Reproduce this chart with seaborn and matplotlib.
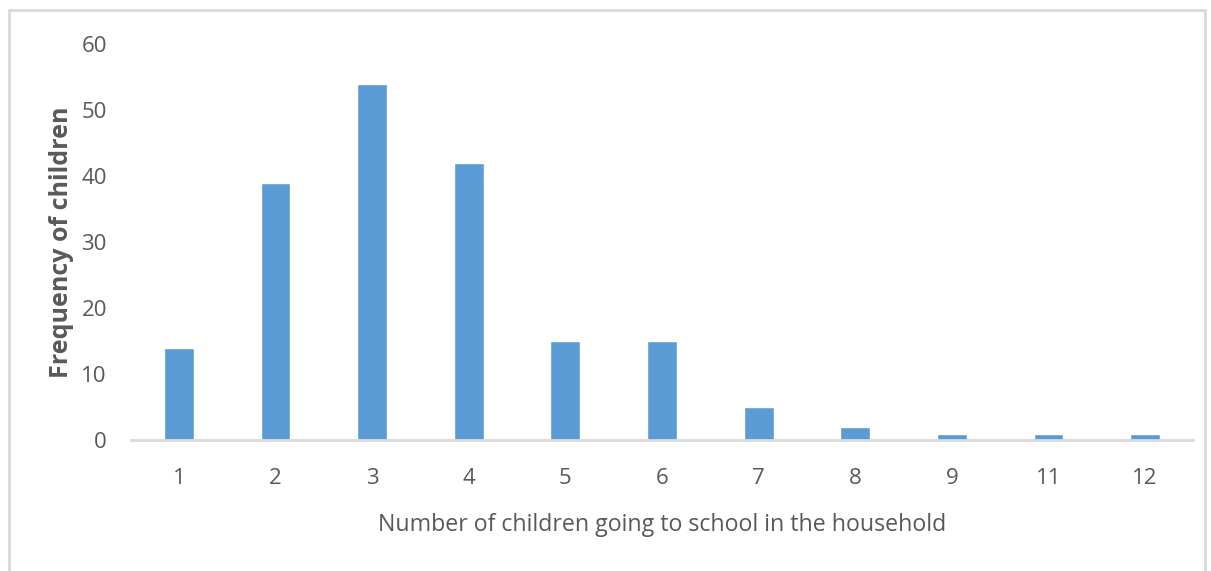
import matplotlib
matplotlib.use('Agg')
import matplotlib.pyplot as plt
import seaborn as sns
import pandas as pd
from matplotlib.patches import Rectangle

n_children = ['1', '2', '3', '4', '5', '6', '7', '8', '9', '11', '12']
frequency = [14, 39, 54, 42, 15, 15, 5, 2, 1, 1, 1]

df = pd.DataFrame({'n_children': n_children, 'frequency': frequency})

sns.set_style('white')
plt.rcParams['font.family'] = ['Open Sans', 'DejaVu Sans']

grey = '#595959'
fig = plt.figure(figsize=(12.11, 5.71), dpi=100)
ax = fig.add_axes([0.1078, 0.229, 0.8777, 0.694])

sns.barplot(data=df, x='n_children', y='frequency', order=n_children,
            color='#5B9BD5', saturation=1, width=0.31, ax=ax)

ax.set_ylim(0, 60)
ax.set_yticks(range(0, 61, 10))
ax.set_xlim(-0.5, len(n_children) - 0.5)
for s in ['top', 'right', 'left']:
    ax.spines[s].set_visible(False)
ax.spines['bottom'].set_color('#D9D9D9')
ax.spines['bottom'].set_linewidth(2)
ax.tick_params(axis='both', length=0, labelsize=16, labelcolor=grey)
ax.tick_params(axis='y', pad=17)
ax.tick_params(axis='x', pad=20)
ax.set_xlabel('Number of children going to school in the household',
              fontsize=16.7, color=grey, labelpad=17)
ax.set_ylabel('Frequency of children', fontsize=18, color=grey,
              fontweight='bold', labelpad=5)

# chart area border
fig.add_artist(Rectangle((9 / 1211, -0.05), 1196 / 1211, 1.05 - 10 / 571,
                         transform=fig.transFigure, fill=False,
                         edgecolor='#D9D9D9', linewidth=2))

fig.savefig('out.png', dpi=100)
